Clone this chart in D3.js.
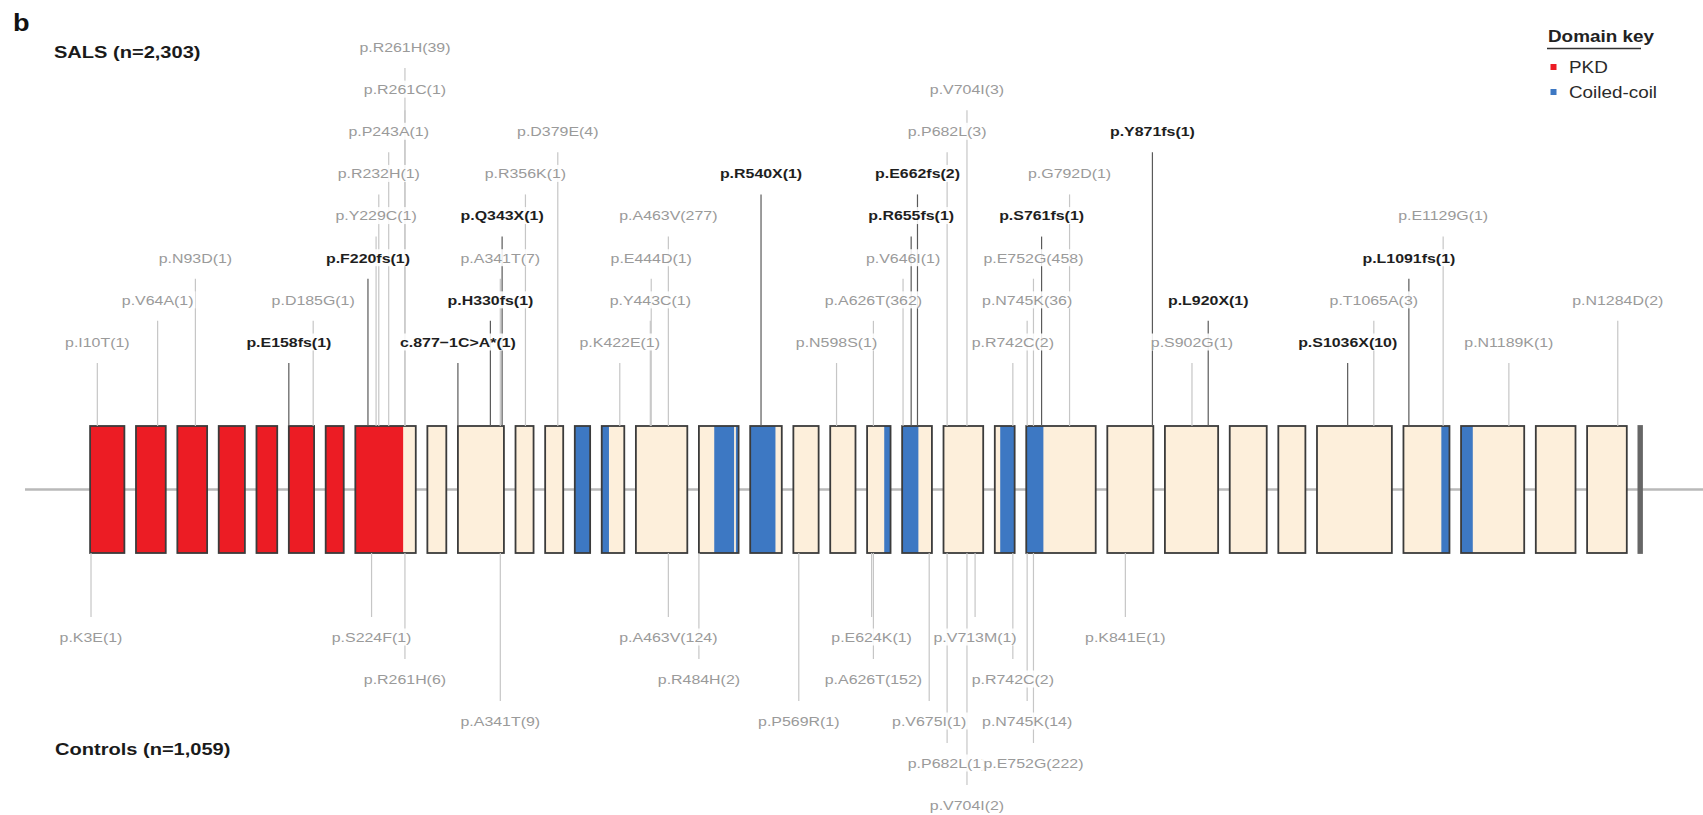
<!DOCTYPE html>
<html>
<head>
<meta charset="utf-8">
<script src="https://cdn.jsdelivr.net/npm/d3@7"></script>
<style>
  html, body { margin: 0; padding: 0; background: #fff; }
  svg { display: block; }
  text { font-family: "Liberation Sans", Arial, Helvetica, sans-serif; }
</style>
</head>
<body>
<svg id="chart" width="1703" height="815"></svg>
<script>
// ---- Gene model: exon boundaries in protein (residue) coordinates ----
const exonBounds = [2, 40, 73, 106, 135, 158, 186, 206, 273, 294, 345, 365, 385, 402, 427,
  484, 528, 563, 591, 619, 645, 678, 722, 744, 821, 872, 931, 972, 1002, 1085, 1136,
  1206, 1250, 1294, 1298];

// ---- Protein domains (residue ranges) ----
const pkdDomains = [[1, 259]];
const coiledCoilDomains = [[385, 410], [501, 523], [525, 556], [638, 663], [728, 763], [1127, 1149]];

// ---- SALS variants (above the gene) ----
const salsVariants = ["p.I10T", "p.V64A", "p.N93D", "p.E158fs", "p.D185G", "p.F220fs", "p.Y229C",
  "p.R232H", "p.P243A", "p.R261C", "p.R261H", "c.877\u22121C>A*", "p.H330fs", "p.A341T", "p.Q343X",
  "p.R356K", "p.D379E", "p.K422E", "p.Y443C", "p.E444D", "p.A463V", "p.R540X", "p.N598S",
  "p.A626T", "p.V646I", "p.R655fs", "p.E662fs", "p.P682L", "p.V704I", "p.R742C", "p.N745K",
  "p.E752G", "p.S761fs", "p.G792D", "p.Y871fs", "p.S902G", "p.L920X", "p.S1036X", "p.T1065A",
  "p.L1091fs", "p.E1129G", "p.N1189K", "p.N1284D"];
const salsCounts = [1, 1, 1, 1, 1, 1, 1, 1, 1, 1, 39, 1, 1, 7, 1, 1, 4, 1, 1, 1, 277, 1, 1,
  362, 1, 1, 2, 3, 3, 2, 36, 458, 1, 1, 1, 1, 1, 10, 3, 1, 1, 1, 2];
const salsResidues = [10, 64, 93, 158, 185, 220, 229, 232, 243, 261, 261, 294, 330, 341, 343,
  356, 379, 422, 443, 444, 463, 540, 598, 626, 646, 655, 662, 682, 704, 742, 745, 752, 761,
  792, 871, 902, 920, 1036, 1065, 1091, 1129, 1189, 1284];

// ---- Control variants (below the gene) ----
const controlVariants = ["p.K3E", "p.S224F", "p.R261H", "p.A341T", "p.A463V", "p.R484H",
  "p.P569R", "p.E624K", "p.A626T", "p.V675I", "p.P682L", "p.V704I", "p.V713M", "p.R742C",
  "p.N745K", "p.E752G", "p.K841E"];
const controlCounts = [1, 1, 6, 9, 124, 2, 1, 1, 152, 1, 1, 2, 1, 2, 14, 222, 1];
const controlResidues = [3, 224, 261, 341, 463, 484, 569, 624, 626, 675, 682, 704, 713, 742,
  745, 752, 841];

// ---- Label stacking tiers (layout) ----
const salsTiers = [0, 1, 2, 0, 1, 2, 3, 4, 5, 6, 7, 0, 1, 2, 3, 4, 5, 0, 1, 2, 3, 4, 0, 1, 2,
  3, 4, 5, 6, 0, 1, 2, 3, 4, 5, 0, 1, 0, 1, 2, 3, 0, 1];
const controlTiers = [0, 0, 1, 2, 0, 1, 2, 0, 1, 2, 3, 4, 0, 1, 2, 3, 0];

const groupTitles = ["SALS (n=2,303)", "Controls (n=1,059)"];
const legendTitle = "Domain key";
const legendItems = ["PKD", "Coiled-coil"];

// ---- Styling / layout constants ----
const W = 1703, H = 815;
const STRETCH = 1.18;               // horizontal text stretch
const INTRON_UNITS = 12.86;         // fixed spacer drawn for each intron, in residue units
const exonTop = 426, exonBottom = 553, backboneY = 489.5;
const colors = { pkd: "#ec1c24", cc: "#3d78c3", exon: "#fdefdb", stroke: "#3b3b3b",
  tinyExon: "#676767", backbone: "#b9b9b9", stemLight: "#c6c6c6", stemDark: "#5a5a5a",
  textLight: "#9a9a9a", textDark: "#1e1e1e" };

const svg = d3.select("#chart");

// exon index for a residue
function exonIndexOf(aa) {
  let i = 0;
  while (i < exonBounds.length - 2 && aa >= exonBounds[i + 1]) i++;
  return i;
}
const nExons = exonBounds.length - 1;
const trackEnd = exonBounds[nExons] + (nExons - 1) * INTRON_UNITS;
const x = d3.scaleLinear().domain([0, trackEnd]).range([88.3, 1642]);
const xAt = (aa, i) => x(aa + i * INTRON_UNITS);
const pos = aa => xAt(aa, exonIndexOf(aa));

const yTop = d3.scaleLinear().domain([0, 7]).range([342, 47]);
const yBottom = d3.scaleLinear().domain([0, 4]).range([637, 805]);

// ---- backbone ----
svg.append("line")
  .attr("x1", 25).attr("x2", W).attr("y1", backboneY).attr("y2", backboneY)
  .attr("stroke", colors.backbone).attr("stroke-width", 2.5);

// ---- exons ----
const exons = d3.range(nExons).map(i => ({ i, s: exonBounds[i], e: exonBounds[i + 1] }));
const exonG = svg.append("g");
exons.forEach(ex => {
  const x0 = xAt(ex.s, ex.i), x1 = xAt(ex.e, ex.i);
  const tiny = (x1 - x0) < 6;
  exonG.append("rect").attr("x", x0).attr("y", exonTop).attr("width", x1 - x0)
    .attr("height", exonBottom - exonTop).attr("fill", tiny ? colors.tinyExon : colors.exon);
  const domainSets = [[pkdDomains, colors.pkd], [coiledCoilDomains, colors.cc]];
  domainSets.forEach(([doms, col]) => {
    doms.forEach(([ds, de]) => {
      const a = Math.max(ds, ex.s), b = Math.min(de, ex.e);
      if (b > a) {
        exonG.append("rect").attr("x", xAt(a, ex.i)).attr("y", exonTop)
          .attr("width", xAt(b, ex.i) - xAt(a, ex.i)).attr("height", exonBottom - exonTop)
          .attr("fill", col);
      }
    });
  });
  exonG.append("rect").attr("x", x0).attr("y", exonTop).attr("width", x1 - x0)
    .attr("height", exonBottom - exonTop).attr("fill", "none")
    .attr("stroke", tiny ? colors.tinyExon : colors.stroke).attr("stroke-width", 1.8);
});

// ---- variants ----
const isTruncating = name => /fs$|X$|^c\./.test(name);
const salsData = salsVariants.map((v, k) => ({
  label: `${v}(${salsCounts[k]})`, x: pos(salsResidues[k]), tier: salsTiers[k],
  bold: isTruncating(v), top: true }));
const controlData = controlVariants.map((v, k) => ({
  label: `${v}(${controlCounts[k]})`, x: pos(controlResidues[k]), tier: controlTiers[k],
  bold: isTruncating(v), top: false }));
const allData = salsData.concat(controlData);
allData.forEach(d => { d.y = d.top ? yTop(d.tier) : yBottom(d.tier); });

const stemG = svg.append("g");
// light stems first, dark (truncating) stems on top
allData.slice().sort((a, b) => a.bold - b.bold).forEach(d => {
  stemG.append("line")
    .attr("x1", d.x).attr("x2", d.x)
    .attr("y1", d.top ? exonTop : exonBottom)
    .attr("y2", d.top ? d.y + 21 : d.y - 20)
    .attr("stroke", d.bold ? colors.stemDark : colors.stemLight)
    .attr("stroke-width", 1.2);
});

const labelG = svg.append("g");
function drawLabel(d) {
  const g = labelG.append("g").attr("transform", `translate(${d.x},${d.y})`);
  const bg = g.append("rect");
  const t = g.append("text")
    .attr("transform", `scale(${STRETCH},1)`)
    .attr("text-anchor", "middle").attr("dy", "0.36em")
    .attr("font-size", 13.5)
    .attr("font-weight", d.bold ? "bold" : "normal")
    .attr("fill", d.bold ? colors.textDark : colors.textLight)
    .text(d.label);
  const w = t.node().getComputedTextLength() * STRETCH;
  bg.attr("x", -w / 2 - 2).attr("y", -8.5).attr("width", w + 4).attr("height", 17)
    .attr("fill", "#fff").attr("opacity", 0.88);
}
salsData.forEach(drawLabel);
controlData.forEach(drawLabel);

// ---- titles ----
function stretchedText(px, py, str, size, weight, fill) {
  return svg.append("text")
    .attr("transform", `translate(${px},${py}) scale(${STRETCH},1)`)
    .attr("font-size", size).attr("font-weight", weight).attr("fill", fill).text(str);
}
stretchedText(13, 31, "b", 23, "bold", "#111");
stretchedText(54, 58, groupTitles[0], 17, "bold", "#1a1a1a");
stretchedText(55, 755, groupTitles[1], 17, "bold", "#1a1a1a");

// ---- legend ----
stretchedText(1548, 41.5, legendTitle, 16, "bold", "#222");
svg.append("line").attr("x1", 1547).attr("x2", 1641).attr("y1", 48.5).attr("y2", 48.5)
  .attr("stroke", "#333").attr("stroke-width", 1.5);
const legendColors = [colors.pkd, colors.cc];
const legendY = d3.scaleLinear().domain([0, 1]).range([67, 92]);
legendItems.forEach((name, k) => {
  const cy = legendY(k);
  svg.append("rect").attr("x", 1550.5).attr("y", cy - 3).attr("width", 6).attr("height", 6)
    .attr("fill", legendColors[k]);
  stretchedText(1569, cy + 5.7, name, 16, "normal", "#2a2a2a");
});
</script>
</body>
</html>
